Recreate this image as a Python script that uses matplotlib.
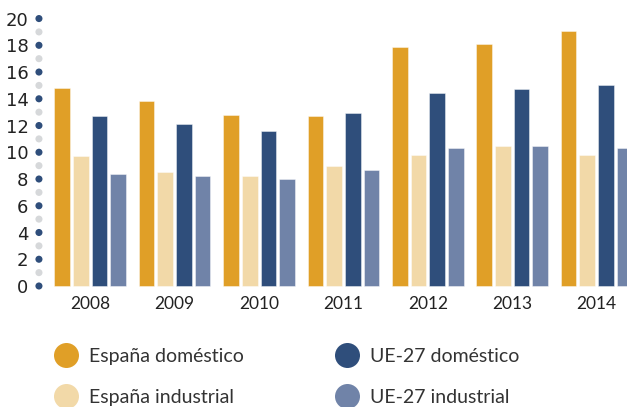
import matplotlib
matplotlib.use("Agg")
import matplotlib.pyplot as plt
from matplotlib.lines import Line2D
import numpy as np

years = ["2008", "2009", "2010", "2011", "2012", "2013", "2014"]
espana_domestico = [14.8, 13.8, 12.8, 12.7, 17.9, 18.1, 19.1]
espana_industrial = [9.7, 8.5, 8.2, 9.0, 9.8, 10.5, 9.8]
ue_domestico = [12.7, 12.1, 11.6, 12.9, 14.4, 14.7, 15.0]
ue_industrial = [8.4, 8.2, 8.0, 8.7, 10.3, 10.5, 10.3]

series = [
    ("España doméstico", espana_domestico, "#E09F27"),
    ("España industrial", espana_industrial, "#F2D9A8"),
    ("UE-27 doméstico", ue_domestico, "#2F4E7B"),
    ("UE-27 industrial", ue_industrial, "#7083A8"),
]

W, H = 627, 407
fig = plt.figure(figsize=(W / 100, H / 100), dpi=100)
ax = fig.add_axes([30 / W, 1 - 290 / H, (W - 30) / W, 280 / H])

x = np.arange(len(years))
pitch = 0.2215
width = 0.185
for i, (name, vals, col) in enumerate(series):
    ax.bar(x + (i - 1.5) * pitch, vals, width, color=col,
           edgecolor=(1, 1, 1, 0.5), linewidth=0.6)

# dotted y axis
ys = np.arange(0, 21)
dot_cols = ["#2F4E7B" if v % 2 == 0 else "#D6D8DA" for v in ys]
ax.scatter(np.full(len(ys), -0.608), ys, s=26, c=dot_cols, zorder=3,
           clip_on=False, linewidths=0)

ax.set_xlim(-0.714, 6.36)
ax.set_ylim(-0.3, 20.64)
for s in ax.spines.values():
    s.set_visible(False)

ax.set_yticks(range(0, 21, 2))
ax.set_yticklabels([str(v) for v in range(0, 21, 2)],
                   family=["Liberation Sans Narrow", "DejaVu Sans"],
                   fontsize=13, color="#222222")
ax.tick_params(axis="y", length=0, pad=1)

ax.set_xticks(x)
ax.set_xticklabels(years, family=["Lato", "DejaVu Sans"], fontsize=12.5,
                   color="#222222")
ax.tick_params(axis="x", length=0, pad=4.5)

fs = 14
handles = [Line2D([], [], marker="o", linestyle="none", markersize=18,
                  markerfacecolor=col, markeredgewidth=0)
           for _, _, col in series]
fig.legend(handles, [s[0] for s in series], loc="upper left",
           bbox_to_anchor=(53 / W, 1 - 348 / H), ncol=2, frameon=False,
           prop={"family": ["Lato", "DejaVu Sans"], "size": fs},
           labelcolor="#333333", handletextpad=0.53, columnspacing=4.7,
           labelspacing=1.22, borderpad=0, borderaxespad=0,
           handlelength=1.3)

fig.savefig("out.png", dpi=100)
